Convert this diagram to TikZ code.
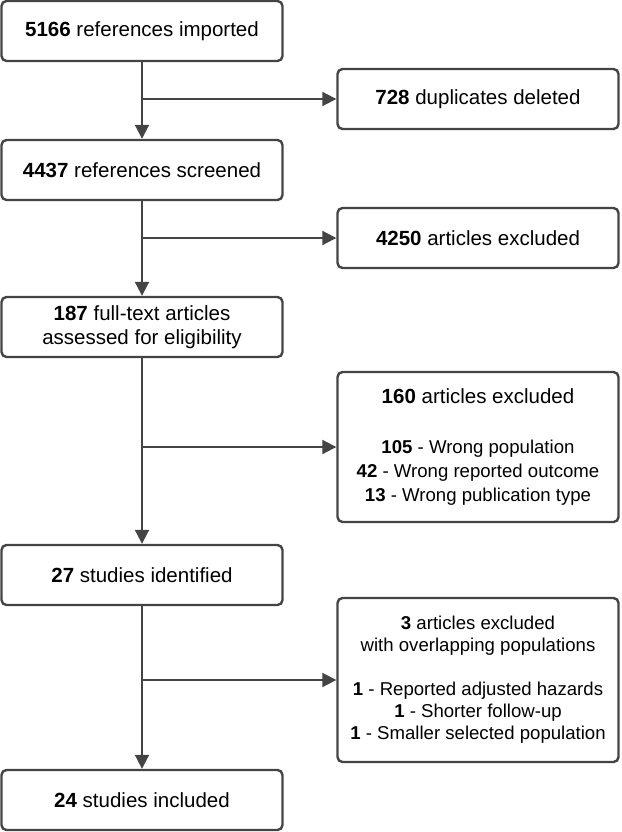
\documentclass[tikz,border=0pt]{standalone}
\usepackage{fontspec}
\setmainfont{Liberation Sans}
\usetikzlibrary{arrows.meta}

\begin{document}
\begin{tikzpicture}[
  x=1pt, y=-1pt,
  box/.style={draw=linegray, line width=2.4pt, rounded corners=5pt, align=center,
              font=\fontsize{20.5}{24}\selectfont,
              minimum width=281pt, minimum height=60pt, inner sep=0pt},
  listbox/.style={box, font=\fontsize{18.6}{22}\selectfont},
  arr/.style={-{Triangle[length=14pt,width=14pt]}, line width=2pt, draw=linegray}
]
\definecolor{linegray}{HTML}{444444}
\useasboundingbox (0,0) rectangle (621,832);
% fixed coordinates: main column on the left, exclusions on the right
\node[box] (imported) at (142,31)  {\textbf{5166} references imported};
\node[box] (dupes)    at (478,99)  {\textbf{728} duplicates deleted};
\node[box] (screened) at (142,170) {\textbf{4437} references screened};
\node[box] (exclA)    at (478,238) {\textbf{4250} articles excluded};
\node[box] (fulltext) at (142,327) {\textbf{187} full-text articles\\assessed for eligibility};
\node[box, minimum height=150pt] (exclB) at (478,447)
  {\textbf{160} articles excluded\\[26pt]
   \fontsize{18.6}{22}\selectfont\textbf{105} - Wrong population\\
   \fontsize{18.6}{22}\selectfont\textbf{42} - Wrong reported outcome\\
   \fontsize{18.6}{22}\selectfont\textbf{13} - Wrong publication type};
\node[box] (identified) at (142,575) {\textbf{27} studies identified};
\node[listbox, minimum height=164pt] (exclC) at (478,680)
  {\textbf{3} articles excluded\\with overlapping populations\\[22pt]
   \textbf{1} - Reported adjusted hazards\\
   \textbf{1} - Shorter follow-up\\
   \textbf{1} - Smaller selected population};
\node[box] (included) at (142,800) {\textbf{24} studies included};

\draw[arr] (imported) -- (screened);
\draw[arr] (screened) -- (fulltext);
\draw[arr] (fulltext) -- (identified);
\draw[arr] (identified) -- (included);

\draw[arr] (imported.south |- dupes.west) -- (dupes.west);
\draw[arr] (screened.south |- exclA.west) -- (exclA.west);
\draw[arr] (fulltext.south |- exclB.west) -- (exclB.west);
\draw[arr] (identified.south |- exclC.west) -- (exclC.west);
\end{tikzpicture}
\end{document}
